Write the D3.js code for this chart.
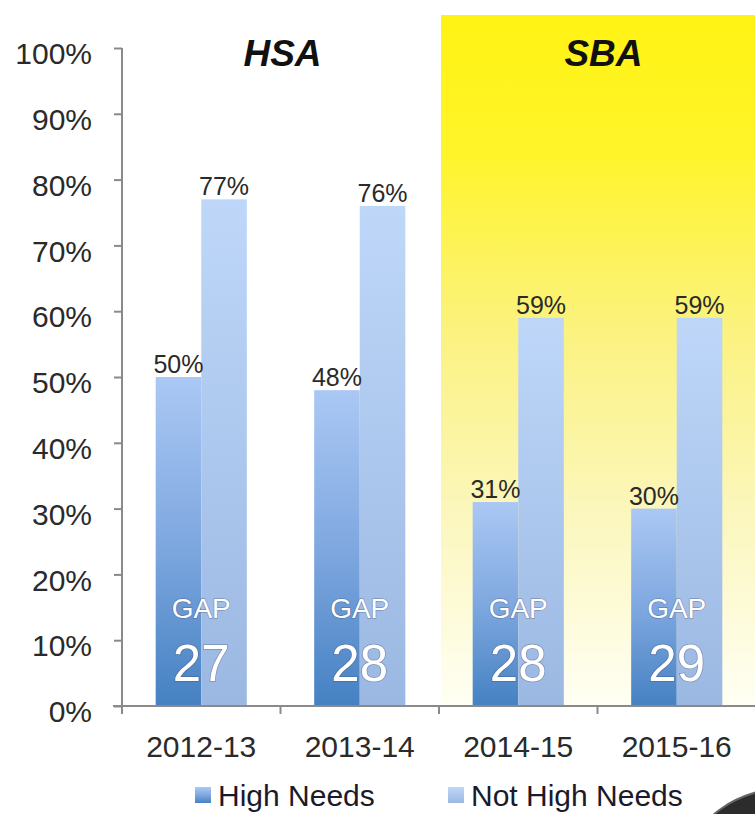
<!DOCTYPE html>
<html>
<head>
<meta charset="utf-8">
<script src="https://cdn.jsdelivr.net/npm/d3@7"></script>
<style>
  body { margin: 0; background: #fff; }
  svg { display: block; font-family: "Liberation Sans", Arial, sans-serif; }
</style>
</head>
<body>
<svg id="chart"></svg>
<script>
// data
var years = ["2012-13", "2013-14", "2014-15", "2015-16"];
var highNeeds = [50, 48, 31, 30];
var notHighNeeds = [77, 76, 59, 59];
var gaps = [27, 28, 28, 29];
var seriesNames = ["High Needs", "Not High Needs"];
var yTicks = [0, 10, 20, 30, 40, 50, 60, 70, 80, 90, 100];
var eraNames = ["HSA", "SBA"];
var eraYears = [["2012-13", "2013-14"], ["2014-15", "2015-16"]];

var width = 755, height = 814;
var svg = d3.select("#chart").attr("width", width).attr("height", height);

var x = d3.scaleBand().domain(years).range([122, 756]);
var groupW = x.bandwidth() * 0.575;
var x1 = d3.scaleBand().domain(seriesNames).range([0, groupW]);
var y = d3.scaleLinear().domain([0, 100]).range([706, 48]);

// gradients
var defs = svg.append("defs");
function vgrad(id, stops) {
    var g = defs.append("linearGradient").attr("id", id)
        .attr("x1", 0).attr("y1", 0).attr("x2", 0).attr("y2", 1);
    stops.forEach(function(s) {
        g.append("stop").attr("offset", s[0]).attr("stop-color", s[1]);
    });
}
vgrad("yellow", [["0", "#fff314"], ["0.2", "#fff42a"], ["0.45", "#fbf27e"], ["0.7", "#fbf6b8"], ["1", "#fffff4"]]);
vgrad("hn", [["0", "#abc8f4"], ["0.5", "#7fa8e0"], ["1", "#4581c2"]]);
vgrad("nhn", [["0", "#bed7f9"], ["1", "#9bb8e2"]]);
var fills = {"High Needs": "url(#hn)", "Not High Needs": "url(#nhn)"};

// yellow SBA panel
var sbaStart = x(eraYears[1][0]);
svg.append("rect")
    .attr("x", sbaStart + 2)
    .attr("y", 15)
    .attr("width", width - sbaStart - 2)
    .attr("height", y(0) - 15)
    .attr("fill", "url(#yellow)");

// era titles
eraNames.forEach(function(name, i) {
    var c = (x(eraYears[i][0]) + x(eraYears[i][1]) + x.bandwidth()) / 2;
    svg.append("text")
        .attr("x", c + (i === 1 ? 6 : 2))
        .attr("y", 66)
        .attr("text-anchor", "middle")
        .style("font-size", "37px")
        .style("font-weight", "bold")
        .style("font-style", "italic")
        .style("fill", "#111")
        .text(name);
});

// bars
var rows = years.map(function(yr, i) {
    return {year: yr, gap: gaps[i], values: [
        {series: seriesNames[0], v: highNeeds[i]},
        {series: seriesNames[1], v: notHighNeeds[i]}
    ]};
});

var groups = svg.selectAll("g.grp")
    .data(rows)
    .enter()
    .append("g")
    .attr("class", "grp")
    .attr("transform", function(d) {
        return "translate(" + (x(d.year) + (x.bandwidth() - groupW) / 2) + ",0)";
    });

groups.selectAll("rect")
    .data(function(d) { return d.values; })
    .enter()
    .append("rect")
    .attr("x", function(d) { return x1(d.series); })
    .attr("y", function(d) { return y(d.v); })
    .attr("width", x1.bandwidth())
    .attr("height", function(d) { return y(0) - y(d.v); })
    .attr("fill", function(d) { return fills[d.series]; });

// value labels
groups.selectAll("text.val")
    .data(function(d) { return d.values; })
    .enter()
    .append("text")
    .attr("class", "val")
    .attr("x", function(d) { return x1(d.series) + x1.bandwidth() / 2; })
    .attr("y", function(d) { return y(d.v) - 4; })
    .attr("text-anchor", "middle")
    .style("font-size", "25px")
    .style("fill", "#2a2a2a")
    .text(function(d) { return d.v + "%"; });

// GAP labels
groups.append("text")
    .attr("x", groupW / 2)
    .attr("y", 618)
    .attr("text-anchor", "middle")
    .style("font-size", "28px")
    .style("fill", "#fff")
    .style("paint-order", "stroke")
    .style("stroke", "rgba(60,60,90,0.35)")
    .style("stroke-width", "1.5px")
    .text("GAP");

groups.append("text")
    .attr("x", groupW / 2)
    .attr("y", 681)
    .attr("text-anchor", "middle")
    .style("font-size", "51px")
    .style("fill", "#fff")
    .style("paint-order", "stroke")
    .style("stroke", "rgba(60,60,90,0.35)")
    .style("stroke-width", "1.5px")
    .text(function(d) { return d.gap; });

// y axis
var yAxis = svg.append("g")
    .attr("transform", "translate(122,0)")
    .call(d3.axisLeft(y).tickValues(yTicks).tickSize(8).tickPadding(22)
        .tickFormat(function(d) { return d + "%"; }));
yAxis.selectAll("text")
    .attr("dy", "0.52em")
    .style("font-size", "30px")
    .style("fill", "#2a2a2a");

// x axis, ticks between categories
var xAxis = svg.append("g").attr("transform", "translate(0," + y(0) + ")");
xAxis.append("line")
    .attr("x1", 113).attr("x2", width)
    .attr("stroke", "#8a8a8a").attr("stroke-width", 2);
xAxis.selectAll("line.tk")
    .data(years)
    .enter()
    .append("line")
    .attr("class", "tk")
    .attr("x1", function(d) { return x(d); })
    .attr("x2", function(d) { return x(d); })
    .attr("y1", 0).attr("y2", 8)
    .attr("stroke", "#8a8a8a").attr("stroke-width", 2);
xAxis.selectAll("text")
    .data(years)
    .enter()
    .append("text")
    .attr("x", function(d) { return x(d) + x.bandwidth() / 2; })
    .attr("y", 51)
    .attr("text-anchor", "middle")
    .style("font-size", "30px")
    .style("fill", "#2a2a2a")
    .text(function(d) { return d; });

yAxis.select(".domain").attr("stroke", "#8a8a8a").attr("stroke-width", 2)
    .attr("d", "M0," + y(100) + "V" + y(0));
yAxis.selectAll(".tick line").attr("stroke", "#8a8a8a").attr("stroke-width", 2);

// legend
var legendX = [195, 448];
seriesNames.forEach(function(s, i) {
    svg.append("rect")
        .attr("x", legendX[i]).attr("y", 787)
        .attr("width", 16).attr("height", 16)
        .attr("fill", fills[s]);
    svg.append("text")
        .attr("x", legendX[i] + 23)
        .attr("y", 806)
        .style("font-size", "30px")
        .style("fill", "#1a1a2a")
        .text(s);
});

// dark object poking in at the bottom right corner
svg.append("ellipse")
    .attr("cx", 795).attr("cy", 862)
    .attr("rx", 105).attr("ry", 75)
    .attr("fill", "#2c2c2c")
    .attr("stroke", "#666").attr("stroke-width", 2);
</script>
</body>
</html>
